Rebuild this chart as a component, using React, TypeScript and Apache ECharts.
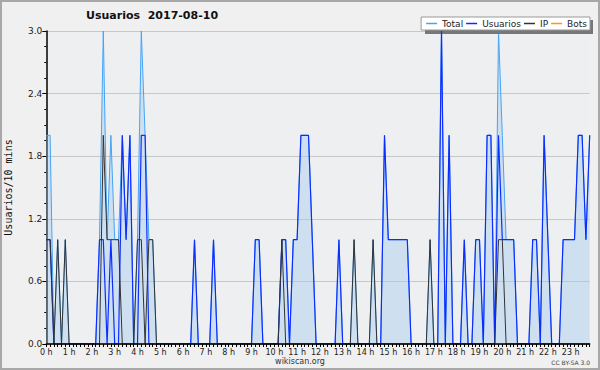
import React, { useEffect, useRef } from "react";
import * as echarts from "echarts";

// 10-minute slots over the day
const categories: string[] = [];
for (let h = 0; h < 24; h++) {
  for (let m = 0; m < 60; m += 10) categories.push(`${h}:${m < 10 ? "0" + m : m}`);
}

const yTicks = [0, 0.6, 1.2, 1.8, 2.4, 3.0];

const total = [
  2, 2, 0, 1, 0, 1, 0, 0, 0, 0, 0, 0,
  0, 0, 1, 3, 1, 2, 1, 1, 2, 1, 2, 0,
  1, 3, 2, 1, 1, 0, 0, 0, 0, 0, 0, 0,
  0, 0, 0, 1, 0, 0, 0, 0, 1, 0, 0, 0,
  0, 0, 0, 0, 0, 0, 0, 1, 1, 0, 0, 0,
  0, 0, 1, 1, 0, 1, 1, 2, 2, 2, 1, 0,
  0, 0, 0, 0, 0, 1, 0, 0, 0, 1, 0, 0,
  0, 0, 1, 0, 0, 2, 1, 1, 1, 1, 1, 1,
  0, 0, 0, 0, 0, 1, 0, 0, 3, 0, 2, 0,
  0, 0, 1, 0, 0, 1, 1, 0, 2, 2, 0, 3,
  2, 1, 1, 1, 0, 0, 0, 0, 1, 1, 0, 2,
  1, 0, 0, 0, 1, 1, 1, 1, 2, 2, 1, 2,
];

const usuarios = [
  1, 1, 0, 0, 0, 0, 0, 0, 0, 0, 0, 0,
  0, 0, 1, 1, 0, 1, 0, 0, 2, 1, 2, 0,
  0, 2, 2, 0, 0, 0, 0, 0, 0, 0, 0, 0,
  0, 0, 0, 1, 0, 0, 0, 0, 1, 0, 0, 0,
  0, 0, 0, 0, 0, 0, 0, 1, 1, 0, 0, 0,
  0, 0, 1, 1, 0, 1, 1, 2, 2, 2, 1, 0,
  0, 0, 0, 0, 0, 1, 0, 0, 0, 0, 0, 0,
  0, 0, 0, 0, 0, 2, 1, 1, 1, 1, 1, 1,
  0, 0, 0, 0, 0, 0, 0, 0, 3, 0, 2, 0,
  0, 0, 1, 0, 0, 1, 1, 0, 2, 2, 0, 2,
  1, 1, 1, 1, 0, 0, 0, 0, 1, 1, 0, 2,
  1, 0, 0, 0, 1, 1, 1, 1, 2, 2, 1, 2,
];

const ip = [
  1, 1, 0, 1, 0, 1, 0, 0, 0, 0, 0, 0,
  0, 0, 0, 2, 1, 1, 1, 1, 0, 0, 0, 0,
  1, 1, 0, 1, 1, 0, 0, 0, 0, 0, 0, 0,
  0, 0, 0, 0, 0, 0, 0, 0, 0, 0, 0, 0,
  0, 0, 0, 0, 0, 0, 0, 0, 0, 0, 0, 0,
  0, 0, 1, 0, 0, 0, 0, 0, 0, 0, 0, 0,
  0, 0, 0, 0, 0, 0, 0, 0, 0, 1, 0, 0,
  0, 0, 1, 0, 0, 0, 0, 0, 0, 0, 0, 0,
  0, 0, 0, 0, 0, 1, 0, 0, 0, 0, 0, 0,
  0, 0, 0, 0, 0, 0, 0, 0, 0, 0, 0, 1,
  1, 0, 0, 0, 0, 0, 0, 0, 0, 0, 0, 0,
  0, 0, 0, 0, 0, 0, 0, 0, 0, 0, 0, 0,
];

const bots = [
  0, 0, 0, 0, 0, 0, 0, 0, 0, 0, 0, 0,
  0, 0, 0, 0, 0, 0, 0, 0, 0, 0, 0, 0,
  0, 0, 0, 0, 0, 0, 0, 0, 0, 0, 0, 0,
  0, 0, 0, 0, 0, 0, 0, 0, 0, 0, 0, 0,
  0, 0, 0, 0, 0, 0, 0, 0, 0, 0, 0, 0,
  0, 0, 0, 0, 0, 0, 0, 0, 0, 0, 0, 0,
  0, 0, 0, 0, 0, 0, 0, 0, 0, 0, 0, 0,
  0, 0, 0, 0, 0, 0, 0, 0, 0, 0, 0, 0,
  0, 0, 0, 0, 0, 0, 0, 0, 0, 0, 0, 0,
  0, 0, 0, 0, 0, 0, 0, 0, 0, 0, 0, 0,
  0, 0, 0, 0, 0, 0, 0, 0, 0, 0, 0, 0,
  0, 0, 0, 0, 0, 0, 0, 0, 0, 0, 0, 0,
];

const FONT = "'DejaVu Sans', Verdana, sans-serif";

export default function App() {
  const ref = useRef<HTMLDivElement>(null);

  useEffect(() => {
    document.body.style.margin = "0";
    if (!ref.current) return;
    const chart = echarts.init(ref.current, null, { renderer: "svg" });
    chart.setOption({
      animation: false,
      backgroundColor: "#f0f0f0",
      title: {
        text: "Usuarios  2017-08-10",
        left: 86,
        top: 10,
        padding: 0,
        textStyle: { fontFamily: FONT, fontSize: 11, fontWeight: "bold", color: "#111" },
      },
      legend: {
        data: ["Total", "Usuarios", "IP", "Bots"],
        right: 10,
        top: 17,
        padding: [2, 3, 2, 5],
        itemGap: 3,
        itemWidth: 11,
        itemHeight: 1.5,
        icon: "rect",
        backgroundColor: "#ffffff",
        borderColor: "#999",
        borderWidth: 1,
        borderRadius: 0,
        selectedMode: false,
        textStyle: { fontFamily: FONT, fontSize: 9, color: "#222" },
      },
      grid: {
        left: 46.3,
        right: 10.3,
        top: 31,
        bottom: 26,
        show: true,
        backgroundColor: "#eeeff1",
        borderWidth: 0,
        outerBoundsMode: "none",
      },
      xAxis: {
        type: "category",
        data: categories,
        boundaryGap: false,
        z: 10,
        axisLine: { show: true, lineStyle: { color: "#000", width: 1.5 } },
        axisTick: { show: true, interval: 0, length: 3, lineStyle: { color: "#000" } },
        axisLabel: {
          interval: 5,
          margin: 4,
          fontFamily: FONT,
          fontSize: 8,
          color: "#222",
          formatter: (v: string) => v.split(":")[0] + " h",
        },
        splitLine: { show: false },
      },
      yAxis: {
        type: "value",
        min: yTicks[0],
        max: yTicks[yTicks.length - 1],
        interval: 0.6,
        name: "Usuarios/10 mins",
        nameLocation: "middle",
        nameGap: 33,
        nameRotate: 90,
        nameTextStyle: { fontFamily: "'DejaVu Sans Mono', monospace", fontSize: 10, color: "#111" },
        axisLine: { show: true, lineStyle: { color: "#000", width: 1.5 } },
        axisTick: { show: true, length: 4, lineStyle: { color: "#000" } },
        minorTick: { show: true, splitNumber: 4, length: 2, lineStyle: { color: "#000" } },
        axisLabel: {
          margin: 4,
          fontFamily: FONT,
          fontSize: 9,
          color: "#222",
          formatter: (v: number) => v.toFixed(1),
        },
        splitLine: { show: true, lineStyle: { color: "#c8c8c8", width: 1 } },
      },
      series: [
        {
          name: "Total",
          type: "line",
          data: total,
          symbol: "none",
          lineStyle: { color: "#45a4f5", width: 1 },
          itemStyle: { color: "#45a4f5" },
          areaStyle: { color: "rgba(156,201,239,0.55)" },
          z: 2,
        },
        {
          name: "Usuarios",
          type: "line",
          data: usuarios,
          symbol: "none",
          lineStyle: { color: "#0d2dff", width: 1.2 },
          itemStyle: { color: "#0d2dff" },
          z: 3,
        },
        {
          name: "IP",
          type: "line",
          data: ip,
          symbol: "none",
          lineStyle: { color: "#333333", width: 1 },
          itemStyle: { color: "#333333" },
          z: 4,
        },
        {
          name: "Bots",
          type: "line",
          data: bots,
          symbol: "none",
          lineStyle: { color: "#ff9900", width: 1 },
          itemStyle: { color: "#ff9900" },
          z: 1,
        },
      ],
      graphic: [
        {
          type: "rect",
          shape: { x: 1, y: 1, width: 598, height: 368 },
          style: { fill: "none", stroke: "#a8a8a8", lineWidth: 2 },
          silent: true,
          z: 100,
        },
        {
          type: "rect",
          shape: { x: 425, y: 20, width: 168, height: 14 },
          style: { fill: "#777" },
          silent: true,
          z: 3,
        },
        {
          type: "text",
          x: 300,
          y: 361,
          style: {
            text: "wikiscan.org",
            fontFamily: FONT,
            fontSize: 8,
            fill: "#333",
            align: "center",
            verticalAlign: "middle",
          },
        },
        {
          type: "text",
          x: 590,
          y: 362.5,
          style: {
            text: "CC BY-SA 3.0",
            fontFamily: FONT,
            fontSize: 6,
            fill: "#444",
            align: "right",
            verticalAlign: "middle",
          },
        },
      ],
    });
    return () => chart.dispose();
  }, []);

  return (
    <div
      ref={ref}
      style={{ position: "fixed", left: 0, top: 0, width: 600, height: 370 }}
    />
  );
}
